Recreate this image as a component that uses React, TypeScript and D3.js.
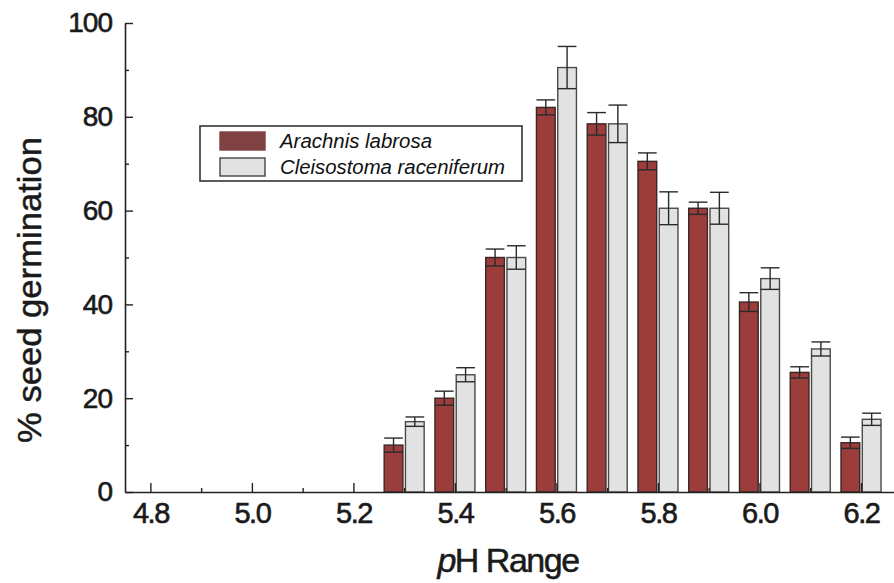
import * as d3 from 'd3'
import { useRef, useEffect } from 'react'

// pH levels that have bars
const phLevels = [5.3, 5.4, 5.5, 5.6, 5.7, 5.8, 5.9, 6.0, 6.1, 6.2]
const seriesNames = ['Arachnis labrosa', 'Cleisostoma raceniferum']
const arachnisValues = [10, 20, 50, 82, 78.5, 70.5, 60.5, 40.5, 25.5, 10.5]
const arachnisErrors = [1.5, 1.5, 1.8, 1.6, 2.4, 1.8, 1.3, 2, 1.2, 1.2]
const cleisoValues = [15, 25, 50, 90.5, 78.5, 60.5, 60.5, 45.5, 30.5, 15.5]
const cleisoErrors = [1, 1.5, 2.5, 4.5, 4, 3.5, 3.4, 2.3, 1.5, 1.3]
const xTickValues = [4.8, 5.0, 5.2, 5.4, 5.6, 5.8, 6.0, 6.2]
const xMinorTicks = [4.9, 5.1, 5.3, 5.5, 5.7, 5.9, 6.1]
const yTickValues = [0, 20, 40, 60, 80, 100]
const yMinorTicks = [10, 30, 50, 70, 90]

const colors = ['#9a3d3b', '#e2e2e2']
const strokes = ['#3b2626', '#4a4a4a']

const Chart = () => {
  const ref = useRef(null)

  useEffect(() => {
    const svg = d3.select(ref.current)
    svg.selectAll('*').remove()

    const x = d3.scaleLinear().domain([4.75, 6.265]).range([125, 894])
    const y = d3.scaleLinear().domain([0, 100]).range([492, 23])
    const sub = d3.scaleBand().domain(seriesNames).range([-20, 20]).paddingInner(0.12)

    const rows = phLevels.map((ph, i) => ({
      ph,
      vals: [
        { key: seriesNames[0], v: arachnisValues[i], e: arachnisErrors[i], idx: 0 },
        { key: seriesNames[1], v: cleisoValues[i], e: cleisoErrors[i], idx: 1 }
      ]
    }))

    const groups = svg
      .append('g')
      .selectAll('g')
      .data(rows)
      .enter()
      .append('g')
      .attr('transform', d => 'translate(' + x(d.ph) + ',0)')

    groups
      .selectAll('rect')
      .data(d => d.vals)
      .enter()
      .append('rect')
      .attr('x', d => sub(d.key))
      .attr('width', sub.bandwidth())
      .attr('y', d => y(d.v))
      .attr('height', d => y(0) - y(d.v))
      .attr('fill', d => colors[d.idx])
      .attr('stroke', d => strokes[d.idx])
      .attr('stroke-width', 1.4)

    // error bars, both ends capped
    const err = groups
      .selectAll('g.err')
      .data(d => d.vals)
      .enter()
      .append('g')
      .attr('class', 'err')
      .attr('stroke', '#2a2a2a')
      .attr('stroke-width', 1.4)
    err
      .append('line')
      .attr('x1', d => sub(d.key) + sub.bandwidth() / 2)
      .attr('x2', d => sub(d.key) + sub.bandwidth() / 2)
      .attr('y1', d => y(d.v - d.e))
      .attr('y2', d => y(d.v + d.e))
    ;[1, -1].forEach(sign => {
      err
        .append('line')
        .attr('x1', d => sub(d.key))
        .attr('x2', d => sub(d.key) + sub.bandwidth())
        .attr('y1', d => y(d.v + sign * d.e))
        .attr('y2', d => y(d.v + sign * d.e))
    })

    const font = '"Liberation Sans", Arial, sans-serif'

    // y axis, ticks pointing inward
    const yAxis = svg
      .append('g')
      .attr('transform', 'translate(125,0)')
      .call(d3.axisLeft(y).tickValues(yTickValues).tickSize(-8).tickSizeOuter(0).tickPadding(13))
    svg
      .append('g')
      .attr('transform', 'translate(125,0)')
      .call(d3.axisLeft(y).tickValues(yMinorTicks).tickSize(-4).tickFormat(() => ''))
      .call(g => g.select('.domain').remove())

    // x axis
    const xAxis = svg
      .append('g')
      .attr('transform', 'translate(0,492)')
      .call(
        d3
          .axisBottom(x)
          .tickValues(xTickValues)
          .tickSize(-9)
          .tickSizeOuter(0)
          .tickPadding(10)
          .tickFormat(d3.format('.1f'))
      )
    svg
      .append('g')
      .attr('transform', 'translate(0,492)')
      .call(d3.axisBottom(x).tickValues(xMinorTicks).tickSize(-4).tickFormat(() => ''))
      .call(g => g.select('.domain').remove())

    svg.selectAll('.domain').attr('stroke', '#222').attr('stroke-width', 1.6)
    svg.selectAll('.tick line').attr('stroke', '#222').attr('stroke-width', 1.4)

    yAxis
      .selectAll('text')
      .attr('font-family', font)
      .attr('font-size', 28)
      .attr('letter-spacing', -1)
      .attr('fill', '#1a1a1a')
      .attr('stroke', '#1a1a1a')
      .attr('stroke-width', 0.6)
    xAxis
      .selectAll('text')
      .attr('font-family', font)
      .attr('font-size', 29)
      .attr('letter-spacing', -1.5)
      .attr('fill', '#1a1a1a')
      .attr('stroke', '#1a1a1a')
      .attr('stroke-width', 0.6)

    // axis titles
    svg
      .append('text')
      .attr('transform', 'translate(41,290) rotate(-90)')
      .attr('text-anchor', 'middle')
      .attr('font-family', font)
      .attr('font-size', 33)
      .attr('textLength', 306)
      .attr('lengthAdjust', 'spacingAndGlyphs')
      .attr('fill', '#1a1a1a')
      .attr('stroke', '#1a1a1a')
      .attr('stroke-width', 0.5)
      .text('% seed germination')

    const xt = svg
      .append('text')
      .attr('x', 508)
      .attr('y', 572)
      .attr('text-anchor', 'middle')
      .attr('font-family', font)
      .attr('font-size', 34)
      .attr('letter-spacing', -1.5)
      .attr('fill', '#1a1a1a')
      .attr('stroke', '#1a1a1a')
      .attr('stroke-width', 0.5)
    xt.append('tspan').attr('font-style', 'italic').text('p')
    xt.append('tspan').text('H Range')

    // legend
    const legend = svg.append('g')
    legend
      .append('rect')
      .attr('x', 200)
      .attr('y', 126)
      .attr('width', 322)
      .attr('height', 55)
      .attr('fill', 'white')
      .attr('stroke', '#333')
      .attr('stroke-width', 1.6)
    const items = legend
      .selectAll('g')
      .data(seriesNames)
      .enter()
      .append('g')
      .attr('transform', (d, i) => 'translate(220,' + (132 + i * 26) + ')')
    items
      .append('rect')
      .attr('width', 45)
      .attr('height', 18)
      .attr('fill', (d, i) => (i === 0 ? '#7f4141' : colors[1]))
      .attr('stroke', (d, i) => (i === 0 ? '#7f4141' : '#444'))
      .attr('stroke-width', 1.4)
    items
      .append('text')
      .attr('x', 60)
      .attr('y', 16)
      .attr('font-family', font)
      .attr('font-style', 'italic')
      .attr('font-size', 20)
      .attr('textLength', (d, i) => (i === 0 ? 152 : 225))
      .attr('lengthAdjust', 'spacingAndGlyphs')
      .attr('fill', '#111')
      .text(d => d)
  }, [])

  return (
    <svg
      ref={ref}
      width={894}
      height={583}
      style={{ position: 'absolute', left: 0, top: 0, background: 'white' }}
    ></svg>
  )
}

export default function App() {
  return <Chart />
}
